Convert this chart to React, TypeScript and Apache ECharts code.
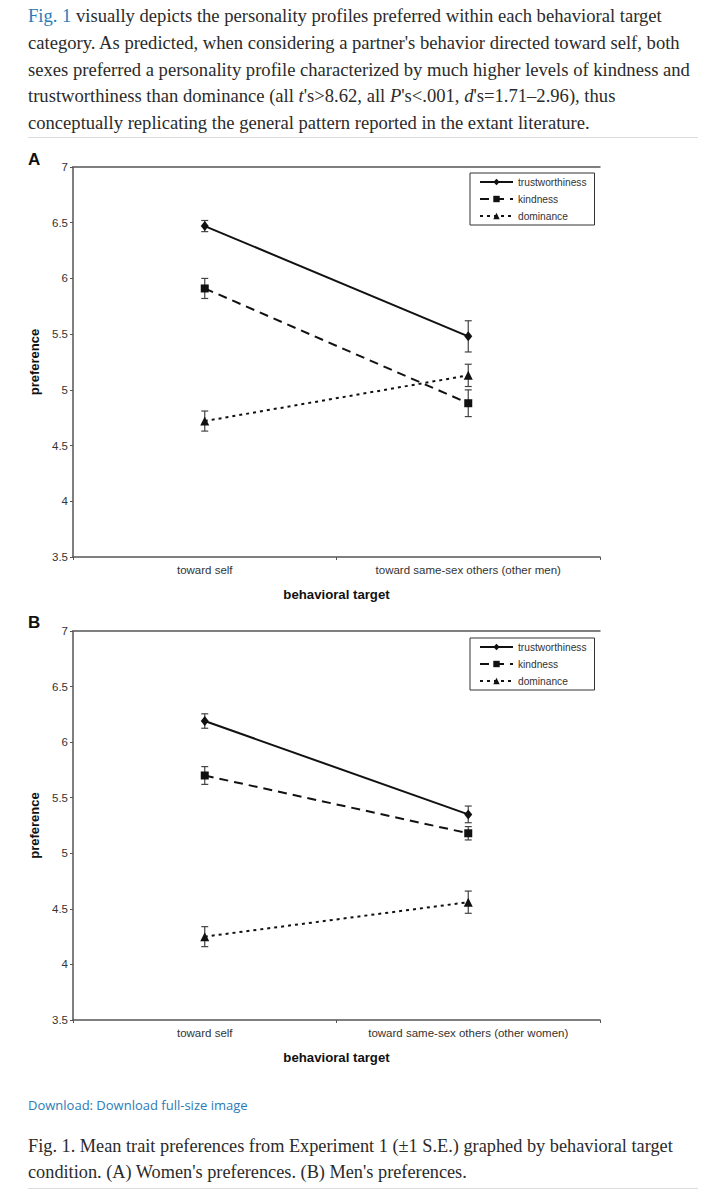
import React, { useEffect, useRef } from "react";
import * as echarts from "echarts";

const categoriesA = ["toward self", "toward same-sex others (other men)"];
const categoriesB = ["toward self", "toward same-sex others (other women)"];
const seriesNames = ["trustworthiness", "kindness", "dominance"];

const trustA = [6.47, 5.48];
const trustSeA = [0.05, 0.14];
const kindA = [5.91, 4.88];
const kindSeA = [0.09, 0.12];
const domA = [4.72, 5.13];
const domSeA = [0.09, 0.1];

const trustB = [6.19, 5.35];
const trustSeB = [0.065, 0.075];
const kindB = [5.7, 5.18];
const kindSeB = [0.08, 0.06];
const domB = [4.25, 4.56];
const domSeB = [0.09, 0.1];

const yMin = 3.5;
const yMax = 7;
const yStep = 0.5;

const paragraph = [
  "{b|Fig. 1}{n| visually depicts the personality profiles preferred within each behavioral target}",
  "{n|category. As predicted, when considering a partner's behavior directed toward self, both}",
  "{n|sexes preferred a personality profile characterized by much higher levels of kindness and}",
  "{n|trustworthiness than dominance (all }{i|t}{n|'s>8.62, all }{i|P}{n|'s<.001, }{i|d}{n|'s=1.71–2.96), thus}",
  "{n|conceptually replicating the general pattern reported in the extant literature.}",
];
const captionLines = [
  "Fig. 1. Mean trait preferences from Experiment 1 (±1 S.E.) graphed by behavioral target",
  "condition. (A) Women's preferences. (B) Men's preferences.",
];
const downloadText = "Download: Download full-size image";

const AX = "#555";
const TXT = "#333";
const SANS = "'Liberation Sans', Arial, sans-serif";
const SERIF = "'Liberation Serif', 'Times New Roman', serif";

function errData(vals: number[], se: number[]) {
  return vals.map((v, i) => [i, v - se[i], v + se[i]]);
}

function errorRender(params: any, api: any) {
  const x = api.value(0);
  const lo = api.coord([x, api.value(1)]);
  const hi = api.coord([x, api.value(2)]);
  const w = 3.5;
  const st = { stroke: "#444", lineWidth: 1.2 };
  return {
    type: "group",
    children: [
      { type: "line", shape: { x1: lo[0], y1: lo[1], x2: hi[0], y2: hi[1] }, style: st },
      { type: "line", shape: { x1: lo[0] - w, y1: lo[1], x2: lo[0] + w, y2: lo[1] }, style: st },
      { type: "line", shape: { x1: hi[0] - w, y1: hi[1], x2: hi[0] + w, y2: hi[1] }, style: st },
    ],
  };
}

const styles = [
  { symbol: "diamond", symbolSize: [8, 10], type: "solid" as any },
  { symbol: "rect", symbolSize: 8, type: [9, 6] as any },
  { symbol: "triangle", symbolSize: 9, type: [3, 4] as any },
];

function panelSeries(gridIdx: number, vals: number[][], ses: number[][]) {
  const out: any[] = [];
  vals.forEach((v, k) => {
    out.push({
      type: "custom",
      name: "err" + gridIdx + k,
      xAxisIndex: gridIdx * 2,
      yAxisIndex: gridIdx,
      renderItem: errorRender,
      encode: { x: 0, y: [1, 2] },
      data: errData(v, ses[k]),
      z: 2,
      silent: true,
    });
  });
  vals.forEach((v, k) => {
    out.push({
      type: "line",
      name: seriesNames[k],
      xAxisIndex: gridIdx * 2,
      yAxisIndex: gridIdx,
      data: v,
      symbol: styles[k].symbol,
      symbolSize: styles[k].symbolSize,
      showSymbol: true,
      itemStyle: { color: "#111" },
      lineStyle: { color: "#111", width: 2, type: styles[k].type },
      z: 3,
    });
  });
  return out;
}

function xAxes(gridIdx: number, cats: string[]) {
  return [
    {
      type: "category",
      gridIndex: gridIdx,
      data: cats,
      boundaryGap: true,
      position: "bottom",
      axisLine: { lineStyle: { color: AX, width: 1.5 } },
      axisTick: { show: true, length: 3, lineStyle: { color: AX } },
      axisLabel: { color: TXT, fontSize: 11.5, fontFamily: SANS, margin: 7 },
      name: "behavioral target",
      nameLocation: "middle",
      nameGap: 31,
      nameTextStyle: { fontSize: 13.2, fontWeight: "bold", color: "#111", fontFamily: SANS },
    },
    {
      type: "category",
      gridIndex: gridIdx,
      data: cats,
      position: "top",
      axisLine: { lineStyle: { color: AX, width: 1.5 } },
      axisTick: { show: false },
      axisLabel: { show: false },
    },
  ];
}

function yAxis(gridIdx: number) {
  return {
    type: "value",
    gridIndex: gridIdx,
    min: yMin,
    max: yMax,
    interval: yStep,
    axisLine: { show: true, lineStyle: { color: AX, width: 1.5 } },
    axisTick: { show: true, length: 3, lineStyle: { color: AX } },
    splitLine: { show: false },
    axisLabel: { color: TXT, fontSize: 11.5, fontFamily: SANS, margin: 5 },
    name: "preference",
    nameLocation: "middle",
    nameGap: 29,
    nameRotate: 90,
    nameTextStyle: { fontSize: 13, fontWeight: "bold", color: "#111", fontFamily: SANS },
  };
}

function legend(top: number) {
  return {
    show: true,
    data: seriesNames,
    orient: "vertical",
    left: 470,
    top: top,
    itemWidth: 33,
    itemHeight: 8,
    itemGap: 7,
    padding: [4, 8, 4, 9],
    borderColor: "#333",
    borderWidth: 1,
    selectedMode: false,
    textStyle: { fontSize: 10.2, color: TXT, fontFamily: SANS, padding: [0, 0, 0, 0] },
  };
}

export default function App() {
  const ref = useRef<HTMLDivElement>(null);
  useEffect(() => {
    if (!ref.current) return;
    const chart = echarts.init(ref.current, undefined, { renderer: "svg" });
    const graphics: any[] = [];
    paragraph.forEach((line, i) => {
      graphics.push({
        type: "text",
        left: 28,
        top: 17 + i * 26.8 - 11,
        style: {
          text: line,
          rich: {
            n: { font: `18.6px ${SERIF}`, fill: "#2b2b2b", lineHeight: 22 },
            i: { font: `italic 18.6px ${SERIF}`, fill: "#2b2b2b", lineHeight: 22 },
            b: { font: `18.6px ${SERIF}`, fill: "#2b7bb9", lineHeight: 22 },
          },
        },
      });
    });
    graphics.push({
      type: "line",
      shape: { x1: 28, y1: 137.5, x2: 698, y2: 137.5 },
      style: { stroke: "#ddd", lineWidth: 1 },
    });
    graphics.push({
      type: "text",
      x: 28,
      y: 159,
      style: { text: "A", font: `bold 17px ${SANS}`, fill: "#111", verticalAlign: "middle" },
    });
    graphics.push({
      type: "text",
      x: 28,
      y: 622,
      style: { text: "B", font: `bold 17px ${SANS}`, fill: "#111", verticalAlign: "middle" },
    });
    graphics.push({
      type: "text",
      x: 28,
      y: 1105,
      style: { text: downloadText, font: `13px 'Open Sans', ${SANS}`, fill: "#2b7bb9", verticalAlign: "middle" },
    });
    captionLines.forEach((line, i) => {
      graphics.push({
        type: "text",
        x: 28,
        y: 1146 + i * 26,
        style: { text: line, font: `18.3px ${SERIF}`, fill: "#2b2b2b", verticalAlign: "middle" },
      });
    });
    graphics.push({
      type: "line",
      shape: { x1: 28, y1: 1188.5, x2: 698, y2: 1188.5 },
      style: { stroke: "#ddd", lineWidth: 1 },
    });

    chart.setOption({
      animation: false,
      backgroundColor: "#fff",
      grid: [
        { left: 73, top: 167, width: 527, height: 390 },
        { left: 73, top: 631, width: 527, height: 389 },
      ],
      xAxis: [...xAxes(0, categoriesA), ...xAxes(1, categoriesB)],
      yAxis: [yAxis(0), yAxis(1)],
      legend: [legend(173), legend(638)],
      series: [
        ...panelSeries(0, [trustA, kindA, domA], [trustSeA, kindSeA, domSeA]),
        ...panelSeries(1, [trustB, kindB, domB], [trustSeB, kindSeB, domSeB]),
      ],
      graphic: graphics,
    });
    return () => chart.dispose();
  }, []);
  return (
    <div
      ref={ref}
      style={{ position: "absolute", left: 0, top: 0, width: 715, height: 1200, background: "#fff" }}
    />
  );
}
